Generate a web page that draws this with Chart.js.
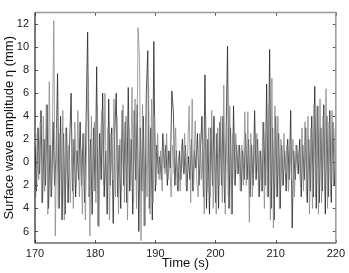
<!DOCTYPE html>
<html>
<head>
<meta charset="utf-8">
<script src="https://cdn.jsdelivr.net/npm/chart.js@4.4.1/dist/chart.umd.min.js"></script>
<style>
  html, body { margin: 0; padding: 0; background: #fff; }
  #wrap { width: 349px; height: 273px; }
</style>
</head>
<body>
<div id="wrap"><canvas id="myChart"></canvas></div>
<script>
const startBlack = 170;
const startGray = 170.125;
const step = 0.25;

const blackValues = [
  1.5, -2.5, 3.0, -1.0,   4.5, -3.5, 2.0, -2.0,   5.0, -4.0, 1.5, -3.0,   3.5, -2.0, 0.5, 7.7,
  -4.0, 4.0, -5.0, 2.5,   -4.5, 3.0, -3.5, 1.5,   6.0, -2.5, 2.0, -3.0,   1.0, -1.5, 3.5, -2.0,
  2.5, -3.5, 4.0, 11.3,   -3.0, 2.0, -4.5, 3.0,   -2.5, 8.3, -5.5, 2.5,   -1.5, 6.0, -3.0, 1.0,
  -4.5, 5.5, -2.0, 3.0,   -5.3, 2.5, 6.0, -3.0,   1.5, -4.0, 4.5, -2.0,   3.5, -3.5, 6.5, -2.5,
  2.0, -4.5, 4.5, -1.5,   5.0, -6.0, 3.0, -2.5,   4.0, -5.5, 6.0, 9.7,    -4.0, 3.0, -5.0, 10.5,
  -2.5, 1.5, -1.0, 0.5,   -1.5, 2.5, -0.5, 1.5,   -2.0, 1.0, -0.5, 6.2,   4.4, -2.0, 1.0, -2.5,
  1.0, -1.5, 2.0, -1.0,   1.5, -2.5, 0.5, -1.5,   2.0, -2.5, 1.0, -0.5,   2.5, -2.0, 1.0, 4.0,
  -3.0, 7.6, -4.0, 2.0,   -4.5, 3.0, -2.0, 4.0,   -3.5, 2.5, -4.0, 3.5,   -2.0, 4.0, -3.5, 2.0,
  10.1, -4.0, 3.0, -4.5,  4.9, -2.0, 1.5, -1.0,   1.5, -2.5, 1.0, -1.5,   2.5, -1.5, 2.0, -3.0,
  1.5, -2.0, 4.5, -1.5,   2.0, -3.0, 1.0, -2.5,   3.5, -2.0, 6.8, -3.0,   9.8, -4.0, 3.0, -5.0,
  4.0, -3.0, 2.5, -4.0,   1.5, -2.0, 1.0, -2.5,   2.0, -1.5, 4.5, -5.7,   1.0, -1.5, 1.5, -1.0,
  2.0, -3.0, 1.5, -1.5,   3.0, -3.5, 2.0, -2.5,   4.0, -3.0, 6.6, -4.0,   4.9, -3.5, 3.0, -2.5,
  5.0, -4.5, 4.0, -3.0,   4.5, -3.5, 3.5, -2.0,   1.0
];

const grayValues = [
  -3.0, 2.5, -1.5, 3.5,   -3.5, 4.0, -2.5, 5.0,   -4.5, 7.0, -3.0, 2.0,   12.3, -6.4, 3.0, -4.0,
  2.5, -3.0, 4.5, -5.0,   3.0, -2.0, 1.5, -3.5,   2.0, -4.0, 3.5, -2.0,   4.5, -3.0, 1.0, -4.5,
  2.5, -5.0, 3.0, 7.4,    -6.4, 4.0, -2.5, 3.5,   -3.5, 5.0, -5.6, 2.0,   4.5, -2.0, 6.0, -3.5,
  3.0, -5.0, 2.5, -1.5,   5.5, -3.0, 4.0, -4.5,   2.0, -2.5, 5.0, -3.5,   4.0, -5.0, 3.0, -2.0,
  6.5, -3.5, 5.5, -4.0,   11.7, 8.9, -6.8, 5.0,   -5.5, 4.0, -3.0, 6.5,   -4.5, 5.5, -3.5, 4.0,
  -2.0, 2.5, -1.5, 1.0,   -2.5, 2.0, -1.0, 2.5,   -1.5, 0.5, -3.0, 1.5,   -1.0, 3.0, -2.0, 0.5,
  -2.5, 1.5, -0.5, 2.5,   -2.0, 1.0, 4.9, -3.5,   5.5, -2.0, 3.6, -1.5,   -3.0, 2.5, -1.5, 2.0,
  -4.5, 4.0, -2.5, 3.0,   -3.0, 4.5, -4.0, 2.5,   -4.5, 3.0, -2.0, 4.0,   -3.5, 6.7, -4.5, 3.0,
  -3.0, 4.9, -4.5, 2.5,   -1.5, 2.5, -1.0, 1.5,   -2.5, 1.5, -2.0, 4.4,   -2.0, 4.4, -5.2, 2.5,
  -3.0, 1.5, -1.0, 2.5,   -2.0, 1.0, -2.5, 3.5,   -4.0, 2.5, -3.0, 5.0,   -5.0, 7.3, -5.7, 4.9,
  -3.0, 4.0, -4.0, 2.0,   -2.0, 2.5, -1.0, 1.5,   -2.5, 1.0, -1.5, 2.0,   -3.0, 1.5, -0.5, 1.0,
  -2.0, 3.0, -2.5, 3.5,   -3.0, 4.0, -4.5, 3.0,   -4.0, 5.0, -3.0, 4.9,   -4.5, 5.5, -3.5, 4.0,
  -2.5, 6.4, -4.0, 3.5,   -3.0, 4.5, -2.0, 3.0
];

const xTicks = [170, 180, 190, 200, 210, 220];
const yTicks = [-6, -4, -2, 0, 2, 4, 6, 8, 10, 12];

function toPoints(start, values) {
  return values.map((v, i) => ({x: start + i * step, y: v}));
}

// MATLAB style box with inward ticks
const boxPlugin = {
  id: 'box',
  afterDraw(chart) {
    const {ctx, chartArea: a, scales} = chart;
    ctx.save();
    ctx.lineWidth = 1;
    ctx.strokeStyle = '#555';
    ctx.beginPath();
    xTicks.forEach(t => {
      const px = Math.round(scales.x.getPixelForValue(t)) + 0.5;
      ctx.moveTo(px, a.bottom); ctx.lineTo(px, a.bottom - 3);
      ctx.moveTo(px, a.top); ctx.lineTo(px, a.top + 3);
    });
    yTicks.forEach(t => {
      const py = Math.round(scales.y.getPixelForValue(t)) + 0.5;
      ctx.moveTo(a.left, py); ctx.lineTo(a.left + 3, py);
      ctx.moveTo(a.right, py); ctx.lineTo(a.right - 3, py);
    });
    ctx.stroke();
    ctx.strokeStyle = '#999';
    ctx.lineWidth = 1.5;
    ctx.beginPath();
    ctx.moveTo(a.left, a.top); ctx.lineTo(a.right, a.top); ctx.lineTo(a.right, a.bottom);
    ctx.stroke();
    ctx.strokeStyle = '#222';
    ctx.lineWidth = 1.2;
    ctx.beginPath();
    ctx.moveTo(a.left, a.top); ctx.lineTo(a.left, a.bottom); ctx.lineTo(a.right, a.bottom);
    ctx.stroke();
    ctx.restore();
  }
};

const ctx = document.getElementById('myChart').getContext('2d');
new Chart(ctx, {
  type: 'line',
  data: {
    datasets: [
      {
        label: 'gray',
        data: toPoints(startGray, grayValues),
        borderColor: '#8c8c8c',
        borderWidth: 0.8,
        pointRadius: 0,
        tension: 0
      },
      {
        label: 'black',
        data: toPoints(startBlack, blackValues),
        borderColor: '#262626',
        borderWidth: 0.8,
        pointRadius: 0,
        tension: 0
      }
    ]
  },
  options: {
    responsive: true,
    maintainAspectRatio: false,
    animation: false,
    layout: {padding: {top: 3, right: 12, left: 0, bottom: 0}},
    plugins: {legend: {display: false}, tooltip: {enabled: false}},
    scales: {
      x: {
        type: 'linear',
        min: 170,
        max: 220,
        grid: {display: false, drawTicks: false},
        border: {display: false},
        afterFit(scale) { scale.height = 30; },
        afterBuildTicks(scale) { scale.ticks = xTicks.map(v => ({value: v})); },
        ticks: {
          padding: 4,
          color: '#222',
          font: {family: 'Liberation Sans', size: 11},
          maxRotation: 0
        },
        title: {
          display: true,
          text: 'Time (s)',
          color: '#111',
          padding: {top: 0, bottom: 2},
          font: {family: 'Liberation Sans', size: 13}
        }
      },
      y: {
        min: -7,
        max: 13,
        grid: {display: false, drawTicks: false},
        border: {display: false},
        afterFit(scale) { scale.width = 35; },
        afterBuildTicks(scale) { scale.ticks = yTicks.map(v => ({value: v})); },
        ticks: {
          padding: 6,
          color: '#222',
          font: {family: 'Liberation Sans', size: 11},
          callback: v => String(Math.abs(v))
        },
        title: {
          display: true,
          text: 'Surface wave amplitude η (mm)',
          color: '#111',
          padding: {top: 2, bottom: 0},
          font: {family: 'Liberation Sans', size: 13}
        }
      }
    }
  },
  plugins: [boxPlugin]
});
</script>
</body>
</html>
